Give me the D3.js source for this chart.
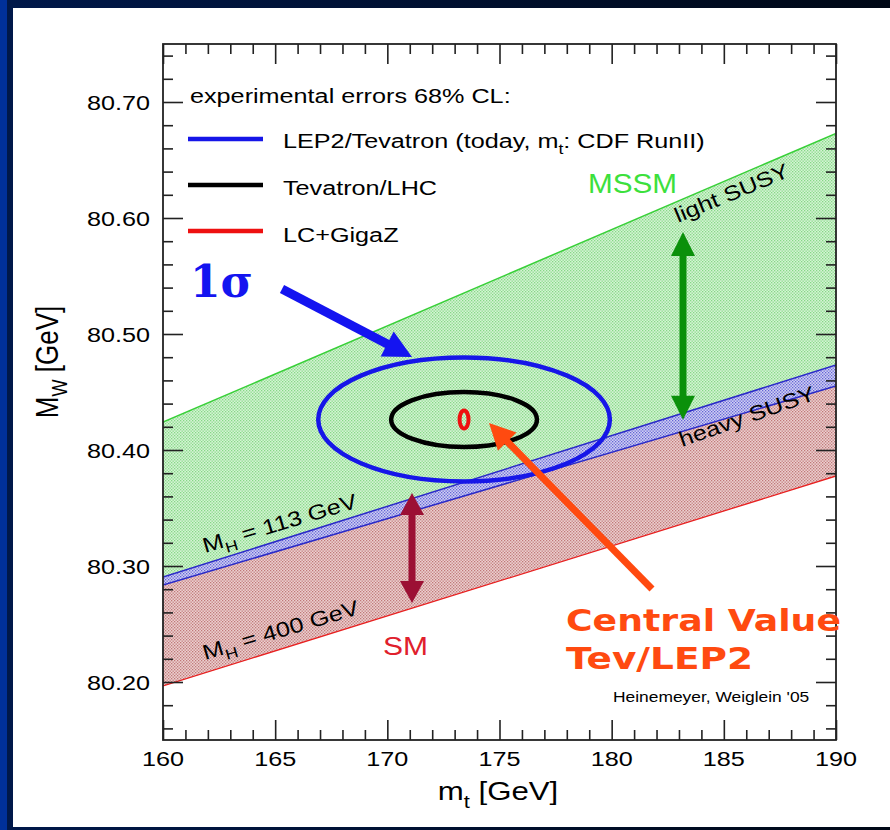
<!DOCTYPE html>
<html><head><meta charset="utf-8">
<script src="https://cdn.jsdelivr.net/npm/d3@7"></script>
<style>html,body{margin:0;padding:0;background:#000b22;} svg{display:block}</style>
</head><body>
<svg id="c" width="890" height="830"></svg>
<script>
// ---------------- data ----------------
const mtDomain = [160, 190];
const mwDomain = [80.15, 80.75];
const xMajorTicks = [160, 165, 170, 175, 180, 185, 190];
const xTickLabels = ["160", "165", "170", "175", "180", "185", "190"];
const yMajorTicks = [80.20, 80.30, 80.40, 80.50, 80.60, 80.70];
const yTickLabels = ["80.20", "80.30", "80.40", "80.50", "80.60", "80.70"];

// band edges, linear in m_t, given at m_t = 160 and 190
const bandMt = [160, 190];
const mssmUpper = [80.424, 80.673];     // light SUSY edge
const overlapUpper = [80.2905, 80.4733]; // MSSM lower edge (heavy SUSY)
const overlapLower = [80.2836, 80.4552]; // SM, M_H = 113 GeV
const smLower = [80.1966, 80.3776];      // SM, M_H = 400 GeV

// 68% CL ellipses around the central value
const centralValue = [173.42, 80.4263];
const ellipseNames = ["LEP2/Tevatron (today, m_t: CDF RunII)", "Tevatron/LHC", "LC+GigaZ"];
const ellipseMtErr = [6.5, 3.25, 0.2];
const ellipseMwErr = [0.0534, 0.0237, 0.0078];

// annotation arrows (data coords)
const smArrow = [171.1, 80.363, 80.268];
const mssmArrow = [183.18, 80.588, 80.426];

// ---------------- styles ----------------
const ellipseColors = ["#1616e8", "#000000", "#ee1010"];
const ellipseWidths = [4.5, 4.5, 4];
const FONT = "'Liberation Sans', Arial, Helvetica, sans-serif";
const SX = 1.2;

const svg = d3.select("#c");
const W = 890, H = 830;

// background frame
const defs = svg.append("defs");
const bgGrad = defs.append("linearGradient").attr("id", "topg").attr("x1", 0).attr("x2", 1).attr("y1", 0).attr("y2", 0);
bgGrad.append("stop").attr("offset", "0%").attr("stop-color", "#00184a");
bgGrad.append("stop").attr("offset", "100%").attr("stop-color", "#000816");
svg.append("rect").attr("width", W).attr("height", H).attr("fill", "url(#topg)");
svg.append("rect").attr("x", 0).attr("y", 0).attr("width", 7).attr("height", H).attr("fill", "#00309a");
svg.append("rect").attr("x", 13).attr("y", 8).attr("width", W - 13).attr("height", 819).attr("fill", "#ffffff");

// patterns
function pattern(id, bg, dot) {
  const p = defs.append("pattern").attr("id", id).attr("width", 3).attr("height", 3).attr("patternUnits", "userSpaceOnUse");
  p.append("rect").attr("width", 3).attr("height", 3).attr("fill", bg);
  p.append("rect").attr("x", 0).attr("y", 0).attr("width", 1.3).attr("height", 1.3).attr("fill", dot);
  p.append("rect").attr("x", 1.5).attr("y", 1.5).attr("width", 1.3).attr("height", 1.3).attr("fill", dot);
}
pattern("pg", "#d4f4d4", "#86d886");
pattern("pr", "#ecd0d0", "#c07878");
pattern("pb", "#d0d0f4", "#6464d4");

const L = 163, R = 836, T = 44, B = 740;
const x = d3.scaleLinear().domain(mtDomain).range([L, R]);
const y = d3.scaleLinear().domain(mwDomain).range([B, T]);

defs.append("clipPath").attr("id", "clip").append("rect").attr("x", L).attr("y", T).attr("width", R - L).attr("height", B - T);
const plot = svg.append("g").attr("clip-path", "url(#clip)");

function band(upper, lower, fill) {
  const pts = bandMt.map((m, i) => [x(m), y(upper[i])]).concat(bandMt.slice().reverse().map((m, i) => [x(m), y(lower[lower.length - 1 - i])]));
  plot.append("path").attr("d", d3.line()(pts) + "Z").attr("fill", fill);
}
band(mssmUpper, overlapUpper, "url(#pg)");
band(overlapUpper, overlapLower, "url(#pb)");
band(overlapLower, smLower, "url(#pr)");

const edge = d3.line().x(d => x(d[0])).y(d => y(d[1]));
function edgeLine(vals, color, w) {
  plot.append("path").attr("d", edge(bandMt.map((m, i) => [m, vals[i]]))).attr("fill", "none").attr("stroke", color).attr("stroke-width", w);
}
edgeLine(mssmUpper, "#38d038", 1.5);
edgeLine(overlapUpper, "#2a2ac8", 1.5);
edgeLine(overlapLower, "#2a2ac8", 1.5);
edgeLine(smLower, "#e82020", 1.3);

// ellipses
ellipseMtErr.forEach((dm, i) => {
  plot.append("ellipse")
    .attr("cx", x(centralValue[0])).attr("cy", y(centralValue[1]))
    .attr("rx", x(centralValue[0] + dm) - x(centralValue[0]))
    .attr("ry", y(centralValue[1]) - y(centralValue[1] + ellipseMwErr[i]))
    .attr("fill", "none").attr("stroke", ellipseColors[i]).attr("stroke-width", ellipseWidths[i]);
});

// axes (ticks inward on all four sides)
function ticks(axisFn, pos, vals, size) {
  const g = svg.append("g").attr("transform", pos)
    .call(axisFn.tickValues(vals).tickSize(size).tickSizeOuter(0).tickFormat(""));
  g.select(".domain").remove();
  g.selectAll(".tick line").attr("stroke", "#222").attr("stroke-width", 1.6);
}
const xMinor = d3.range(161, 190, 1).filter(v => v % 5 !== 0);
const yMinor = d3.range(0, 30).map(i => 80.16 + 0.02 * i).filter(v => Math.abs(v * 10 - Math.round(v * 10)) > 1e-6);
ticks(d3.axisBottom(x), `translate(0,${B})`, xMajorTicks, -20);
ticks(d3.axisBottom(x), `translate(0,${B})`, xMinor, -10);
ticks(d3.axisTop(x), `translate(0,${T})`, xMajorTicks, -20);
ticks(d3.axisTop(x), `translate(0,${T})`, xMinor, -10);
ticks(d3.axisLeft(y), `translate(${L},0)`, yMajorTicks, -20);
ticks(d3.axisLeft(y), `translate(${L},0)`, yMinor, -10);
ticks(d3.axisRight(y), `translate(${R},0)`, yMajorTicks, -20);
ticks(d3.axisRight(y), `translate(${R},0)`, yMinor, -10);
svg.append("rect").attr("x", L).attr("y", T).attr("width", R - L).attr("height", B - T)
  .attr("fill", "none").attr("stroke", "#222").attr("stroke-width", 1.8);

// text helper: segments [{t, sub}]
function stext(parent, px, py, segs, o = {}) {
  const size = o.size || 21, sx = o.sx || SX, sy = o.sy || 1;
  const t = parent.append("text")
    .attr("transform", `translate(${px},${py}) rotate(${o.rotate || 0}) scale(${sx},${sy})`)
    .attr("font-family", o.family || FONT).attr("font-size", size)
    .attr("font-weight", o.weight || "normal")
    .attr("text-anchor", o.anchor || "start").attr("fill", o.fill || "#000");
  if (o.len) t.attr("textLength", o.len).attr("lengthAdjust", "spacingAndGlyphs");
  if (typeof segs === "string") segs = [{ t: segs }];
  let shifted = false;
  segs.forEach(s => {
    const ts = t.append("tspan").text(s.t);
    if (s.sub) { ts.attr("font-size", size * 0.7).attr("dy", size * 0.3); shifted = true; }
    else if (shifted) { ts.attr("dy", -size * 0.3); shifted = false; }
  });
  return t;
}

// tick labels
xMajorTicks.forEach((v, i) => stext(svg, x(v), 766, xTickLabels[i], { anchor: "middle" }));
yMajorTicks.forEach((v, i) => stext(svg, 150, y(v) + 7.5, yTickLabels[i], { anchor: "end" }));

// axis titles
stext(svg, 498, 800, [{ t: "m" }, { t: "t", sub: true }, { t: " [GeV]" }], { size: 26, anchor: "middle" });
stext(svg, 58, 362, [{ t: "M" }, { t: "W", sub: true }, { t: " [GeV]" }], { size: 26, anchor: "middle", rotate: -90, sx: 1, sy: 1.2 });

// legend
stext(svg, 190, 103, "experimental errors 68% CL:");
const legY = [139, 185, 231];
ellipseNames.forEach((n, i) => {
  svg.append("line").attr("x1", 188).attr("x2", 263).attr("y1", legY[i]).attr("y2", legY[i])
    .attr("stroke", ellipseColors[i]).attr("stroke-width", 4.5);
});
stext(svg, 283, 148, [{ t: "LEP2/Tevatron (today, m" }, { t: "t", sub: true }, { t: ": CDF RunII)" }]);
stext(svg, 283, 195, "Tevatron/LHC");
stext(svg, 283, 242, "LC+GigaZ");

// band labels
stext(svg, 588, 193, "MSSM", { size: 27, sx: 1.1, fill: "#3ce03c" });
stext(svg, 678, 223, "light SUSY", { rotate: -22.5 });
stext(svg, 682, 447, "heavy SUSY", { rotate: -19.5 });
stext(svg, 205, 553, [{ t: "M" }, { t: "H", sub: true }, { t: " = 113 GeV" }], { rotate: -16.5 });
stext(svg, 205, 660, [{ t: "M" }, { t: "H", sub: true }, { t: " = 400 GeV" }], { rotate: -16.5 });
stext(svg, 383, 655, "SM", { size: 25, fill: "#e0202c" });
stext(svg, 613, 702, "Heinemeyer, Weiglein '05", { size: 14.5 });

// arrows
function arrow(x1, y1, x2, y2, w, hl, hw, color, dbl) {
  const dx = x2 - x1, dy = y2 - y1, len = Math.hypot(dx, dy), ux = dx / len, uy = dy / len, nx = -uy, ny = ux;
  const g = svg.append("g").attr("fill", color).attr("stroke", "none");
  const sx1 = dbl ? x1 + ux * hl * 0.9 : x1, sy1 = dbl ? y1 + uy * hl * 0.9 : y1;
  const ex = x2 - ux * hl * 0.9, ey = y2 - uy * hl * 0.9;
  g.append("path").attr("d", d3.line()([[sx1 + nx * w / 2, sy1 + ny * w / 2], [ex + nx * w / 2, ey + ny * w / 2], [ex - nx * w / 2, ey - ny * w / 2], [sx1 - nx * w / 2, sy1 - ny * w / 2]]) + "Z");
  const head = (hx, hy, ax, ay) => g.append("path").attr("d", d3.line()([[hx, hy], [hx - ax * hl + nx * hw / 2, hy - ay * hl + ny * hw / 2], [hx - ax * hl - nx * hw / 2, hy - ay * hl - ny * hw / 2]]) + "Z");
  head(x2, y2, ux, uy);
  if (dbl) head(x1, y1, -ux, -uy);
}
arrow(x(smArrow[0]), y(smArrow[1]), x(smArrow[0]), y(smArrow[2]), 7, 22, 24, "#9c1034", true);
arrow(x(mssmArrow[0]), y(mssmArrow[1]), x(mssmArrow[0]), y(mssmArrow[2]), 7, 24, 24, "#0a900a", true);
arrow(282, 289, 412, 357, 9, 28, 28, "#1414f0", false);
arrow(652, 589, 489, 423, 7, 26, 26, "#ff4a10", false);

// annotations
stext(svg, 190, 297, "1σ", { size: 44, sx: 1, family: "'DejaVu Serif', serif", weight: "bold", fill: "#1414f0" });
stext(svg, 566, 631, "Central Value", { size: 31, sx: 1, len: 275, family: "'DejaVu Sans', sans-serif", weight: "bold", fill: "#ff4a10" });
stext(svg, 566, 669, "Tev/LEP2", { size: 31, sx: 1, len: 187, family: "'DejaVu Sans', sans-serif", weight: "bold", fill: "#ff4a10" });
</script>
</body></html>
